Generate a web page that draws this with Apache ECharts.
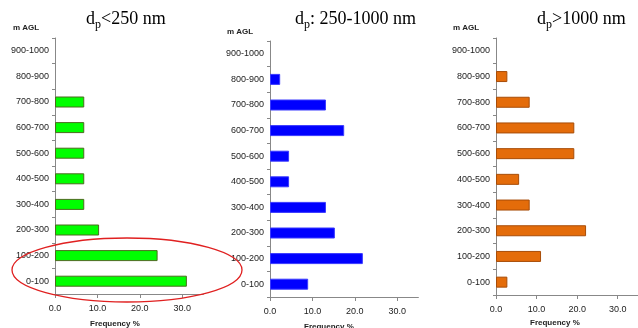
<!DOCTYPE html>
<html><head><meta charset="utf-8">
<script src="https://cdn.jsdelivr.net/npm/echarts@6/dist/echarts.min.js"></script>
<style>html,body{margin:0;padding:0;background:#fff}#c{width:638px;height:328px}</style>
</head><body><div id="c"></div>
<script>
var categories = ['0-100','100-200','200-300','300-400','400-500','500-600','600-700','700-800','800-900','900-1000'];
var fineValues = [31.1, 24.2, 10.4, 6.9, 6.9, 6.9, 6.9, 6.9, 0, 0];
var midValues = [9.0, 21.9, 15.3, 13.2, 4.5, 4.5, 17.5, 13.2, 2.4, 0];
var coarseValues = [2.8, 11.1, 22.2, 8.3, 5.7, 19.3, 19.3, 8.3, 2.8, 0];
var xTicks = [0, 10, 20, 30];

var chart = echarts.init(document.getElementById('c'), null, {renderer:'canvas'});
var grids = [
  {left:55, top:38, width:148.4, height:256},
  {left:270, top:41, width:148.4, height:256},
  {left:496, top:38, width:148.4, height:257}
];
var xAxes = [], yAxes = [];
for (var i = 0; i < 3; i++) {
  xAxes.push({type:'value', gridIndex:i, min:0, max:35,
    axisLine:{show:true, lineStyle:{color:'#888', width:1}},
    axisTick:{show:true, length:4, customValues:xTicks, lineStyle:{color:'#888'}},
    axisLabel:{customValues:xTicks, fontFamily:'Liberation Sans, Arial', fontSize:9, color:'#222', margin:10,
      formatter:function(v){return v.toFixed(1);}},
    splitLine:{show:false}});
  yAxes.push({type:'category', gridIndex:i, data:categories,
    axisLine:{show:true, lineStyle:{color:'#888', width:1}},
    axisTick:{show:true, length:3, lineStyle:{color:'#888'}},
    axisLabel:{fontFamily:'Liberation Sans, Arial', fontSize:9, color:'#222', margin:6}});
}
var seriesDefs = [
  {data:fineValues, color:'#00ff00', border:'#4d6b1f'},
  {data:midValues, color:'#0000ff', border:'#3a3aff'},
  {data:coarseValues, color:'#e46c0a', border:'#a84d08'}
];
var series = seriesDefs.map(function(s, i){
  return {type:'bar', xAxisIndex:i, yAxisIndex:i, barWidth:11, silent:true,
    data:s.data.map(function(v){ return v === 0 ? {value:v, itemStyle:{borderWidth:0}} : v; }),
    itemStyle:{color:s.color, borderColor:s.border, borderWidth:1}};
});
function titleText(x, y, rest) {
  return {type:'text', left:x, top:y, style:{
    text:'{d|d}{s|p}{d|' + rest + '}',
    rich:{d:{fontFamily:'Liberation Serif, Times New Roman', fontSize:18, lineHeight:22, color:'#000', verticalAlign:'bottom'},
          s:{fontFamily:'Liberation Serif, Times New Roman', fontSize:12, lineHeight:12, color:'#000', verticalAlign:'bottom', padding:[0,0,-3,0]}}
  }};
}
function small(x, y, t) {
  return {type:'text', left:x, top:y, style:{text:t, fontFamily:'Liberation Sans, Arial', fontWeight:'bold', fontSize:8, fill:'#222'}};
}
var graphic = [
  titleText(86, 10, '<250 nm'),
  titleText(295, 10, ': 250-1000 nm'),
  titleText(537, 10, '>1000 nm'),
  small(13, 24, 'm AGL'),
  small(227, 28, 'm AGL'),
  small(453, 24, 'm AGL'),
  small(90, 320, 'Frequency %'),
  small(304, 323, 'Frequency %'),
  small(530, 319, 'Frequency %'),
  {type:'ellipse', shape:{cx:127, cy:270, rx:115, ry:32}, z:100,
    style:{fill:'none', stroke:'#e02020', lineWidth:1.3}}
];
chart.setOption({
  animation:false,
  grid:grids, xAxis:xAxes, yAxis:yAxes, series:series, graphic:graphic
});
</script></body></html>
